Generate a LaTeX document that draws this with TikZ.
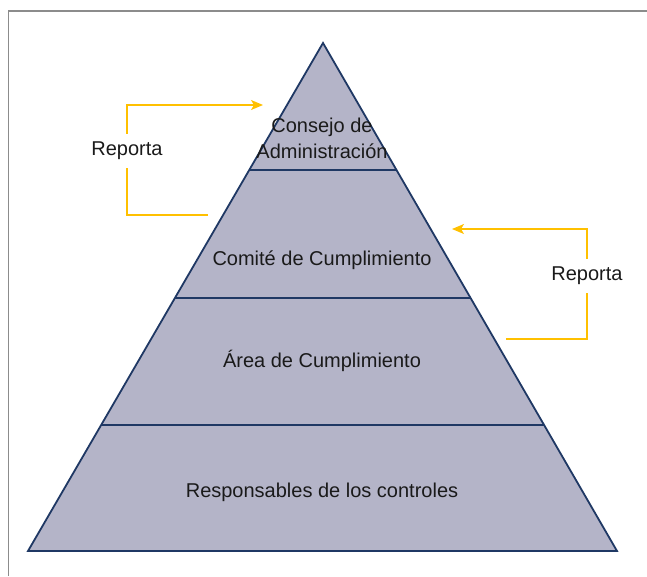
\documentclass[tikz,border=0pt]{standalone}
\usepackage{fontspec}
\setmainfont{Liberation Sans}
\usetikzlibrary{arrows.meta,calc}
\definecolor{pyrfill}{HTML}{B4B4C8}
\definecolor{pyredge}{HTML}{1F3864}
\definecolor{repyellow}{HTML}{FFC000}
\definecolor{framegray}{HTML}{8C8C8C}
\definecolor{txt}{HTML}{1A1A1A}
\begin{document}
\begin{tikzpicture}[x=1pt,y=-1pt,
  lvl/.style={text=txt,font=\fontsize{20}{26}\selectfont,align=center,inner sep=0pt},
  replabel/.style={text=txt,font=\fontsize{20}{26}\selectfont,inner sep=0pt,minimum height=34pt},
  repline/.style={repyellow,line width=1.2pt},
  reparrow/.style={repline,-{Stealth[length=12pt,width=10pt,inset=3pt]}},
  edge/.style={pyredge,line width=1.8pt,line join=miter}]
\useasboundingbox (0,0) rectangle (647,576);
% frame
\draw[framegray,line width=1.5pt] (8.5,576) -- (8.5,11) -- (647,11);
% pyramid
\coordinate (apex) at (323,43);
\coordinate (bl) at (28,551);
\coordinate (br) at (617,551);
\fill[pyrfill] (apex) -- (br) -- (bl) -- cycle;
\foreach \t in {0.25,0.502,0.752}{
  \draw[edge] ($(apex)!\t!(bl)$) -- ($(apex)!\t!(br)$);
}
\draw[edge] (apex) -- (br) -- (bl) -- cycle;
% texts
\node[lvl] (consejo) at (322,138) {Consejo de\\Administración};
\node[lvl,anchor=base] (comite) at (322,265) {Comité de Cumplimiento};
\node[lvl,anchor=base] (area) at (322,367) {Área de Cumplimiento};
\node[lvl,anchor=base] (resp) at (322,497) {Responsables de los controles};
% left report
\node[replabel] (repL) at (127,151) {Reporta};
\coordinate (Lstart) at (208,215);
\coordinate (Lend) at (263,105);
\draw[repline] (Lstart) -| (repL.south);
\draw[reparrow] (repL.north) |- (Lend);
% right report
\node[replabel] (repR) at (587,276) {Reporta};
\coordinate (Rstart) at (506,339);
\coordinate (Rend) at (452,229);
\draw[repline] (Rstart) -| (repR.south);
\draw[reparrow] (repR.north) |- (Rend);
\end{tikzpicture}
\end{document}
